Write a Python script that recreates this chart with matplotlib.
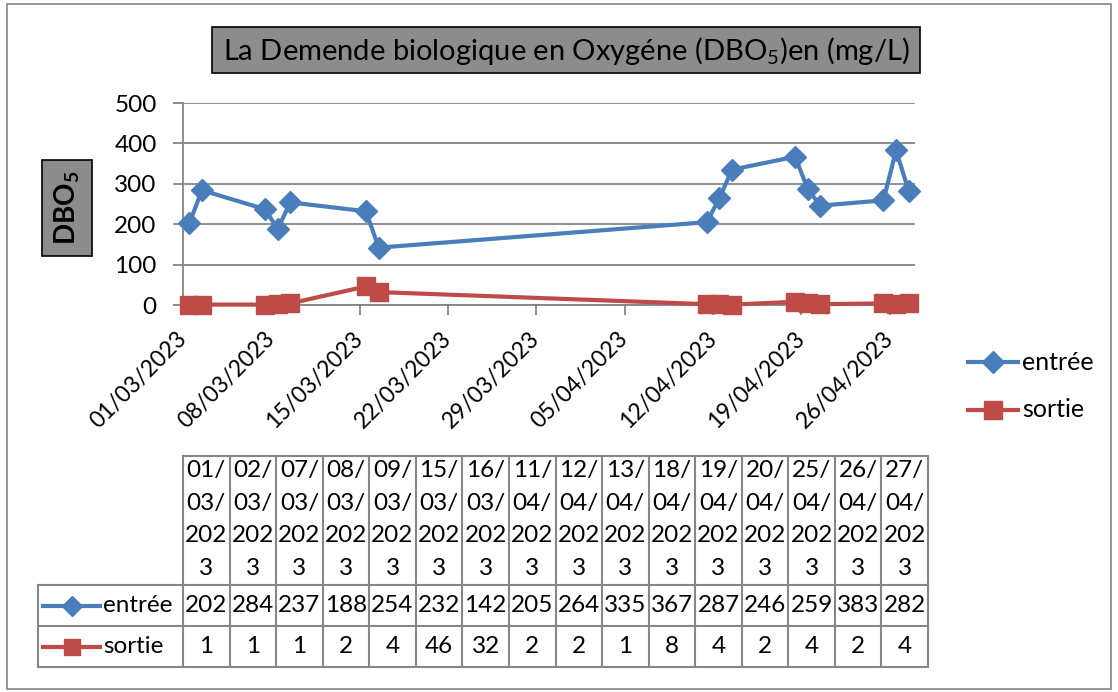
import matplotlib
matplotlib.use('Agg')
import matplotlib.pyplot as plt
import matplotlib.dates as mdates
from matplotlib.patches import Rectangle
from matplotlib.lines import Line2D
import pandas as pd

dates = ['01/03/2023', '02/03/2023', '07/03/2023', '08/03/2023', '09/03/2023',
         '15/03/2023', '16/03/2023', '11/04/2023', '12/04/2023', '13/04/2023',
         '18/04/2023', '19/04/2023', '20/04/2023', '25/04/2023', '26/04/2023',
         '27/04/2023']
entree = [202, 284, 237, 188, 254, 232, 142, 205, 264, 335, 367, 287, 246, 259, 383, 282]
sortie = [1, 1, 1, 2, 4, 46, 32, 2, 2, 1, 8, 4, 2, 4, 2, 4]
tick_dates = ['01/03/2023', '08/03/2023', '15/03/2023', '22/03/2023', '29/03/2023',
              '05/04/2023', '12/04/2023', '19/04/2023', '26/04/2023']
y_ticks = [0, 100, 200, 300, 400, 500]

BLUE = '#4a7ebb'
RED = '#be4b48'
GREY = '#868686'
FONT = 'Lato'
FS = 17.5

plt.rcParams['font.family'] = [FONT, 'DejaVu Sans']
plt.rcParams['mathtext.fontset'] = 'custom'
plt.rcParams['mathtext.rm'] = FONT
plt.rcParams['mathtext.bf'] = FONT + ':bold'

W, H = 1118, 692


def fx(x):
    return x / W


def fy(y):
    return 1 - y / H


def main():
    fig = plt.figure(figsize=(W / 100, H / 100), dpi=100)

    # outer frame of the chart
    fig.add_artist(Rectangle((fx(7), fy(689)), fx(1111) - fx(7), fy(4) - fy(689),
                             transform=fig.transFigure, fill=False, edgecolor=GREY, lw=1.2))

    ax = fig.add_axes([fx(183), fy(305), fx(915) - fx(183), fy(103) - fy(305)])

    xd = mdates.date2num(pd.to_datetime(dates, format='%d/%m/%Y'))
    xt = mdates.date2num(pd.to_datetime(tick_dates, format='%d/%m/%Y'))

    ax.plot(xd, entree, color=BLUE, lw=3, marker='D', ms=11, clip_on=False, zorder=3)
    ax.plot(xd, sortie, color=RED, lw=3, marker='s', ms=13, clip_on=False, zorder=4)

    ax.set_xlim(xd[0] - 0.5, xd[-1] + 0.5)
    ax.set_ylim(0, 500)
    ax.set_yticks(y_ticks)
    ax.set_yticklabels([str(v) for v in y_ticks], fontsize=FS)
    ax.set_xticks(xt - 0.5)
    ax.set_xticklabels(tick_dates, fontsize=16.5, rotation=45, ha='right',
                       va='center', rotation_mode='anchor')

    ax.yaxis.grid(True, color=GREY, lw=1.3)
    ax.set_axisbelow(True)
    for s in ['top', 'right']:
        ax.spines[s].set_visible(False)
    for s in ['left', 'bottom']:
        ax.spines[s].set_color(GREY)
        ax.spines[s].set_linewidth(1.3)
    ax.tick_params(axis='y', length=7, color=GREY, width=1.3, pad=12)
    ax.tick_params(axis='x', length=7, color=GREY, width=1.3, pad=15)

    # title box
    fig.add_artist(Rectangle((fx(212), fy(73)), fx(920) - fx(212), fy(27) - fy(73),
                             transform=fig.transFigure, facecolor='#8c8c8c',
                             edgecolor='black', lw=1.2))
    fig.text(fx(566), fy(51), 'La Demende biologique en Oxygéne (DBO$_5$)en (mg/L)',
             ha='center', va='center', fontsize=21)

    # y label box
    fig.add_artist(Rectangle((fx(42), fy(256)), fx(92) - fx(42), fy(160) - fy(256),
                             transform=fig.transFigure, facecolor='#8c8c8c',
                             edgecolor='black', lw=1.2))
    fig.text(fx(67), fy(208), r'DBO$_\mathbf{5}$', rotation=90, ha='center', va='center',
             fontsize=20, fontweight='bold')

    # legend
    for yy, col, mk, ms, lab in [(362, BLUE, 'D', 11, 'entrée'), (410, RED, 's', 13, 'sortie')]:
        fig.add_artist(Line2D([fx(968), fx(1018)], [fy(yy), fy(yy)], color=col, lw=3,
                              transform=fig.transFigure))
        fig.add_artist(Line2D([fx(993)], [fy(yy)], color=col, marker=mk, ms=ms,
                              transform=fig.transFigure))
        fig.text(fx(1022), fy(yy), lab, ha='left', va='center', fontsize=FS + 0.5)

    # data table below the chart
    n = len(dates)
    x0, x1, lab_x = 183, 928, 38
    cw = (x1 - x0) / n
    top, hb, r1, r2 = 456, 585, 626, 667

    def hline(y, xa, xb):
        fig.add_artist(Line2D([fx(xa), fx(xb)], [fy(y), fy(y)], color=GREY, lw=1.5,
                              transform=fig.transFigure))

    def vline(x, ya, yb):
        fig.add_artist(Line2D([fx(x), fx(x)], [fy(ya), fy(yb)], color=GREY, lw=1.5,
                              transform=fig.transFigure))

    hline(top, x0, x1)
    for y in (hb, r1, r2):
        hline(y, lab_x, x1)
    vline(lab_x, hb, r2)
    for i in range(n + 1):
        vline(x0 + i * cw, top, r2)

    for i, d in enumerate(dates):
        cx = x0 + (i + 0.5) * cw
        parts = [d[0:3], d[3:6], d[6:9], d[9:]]
        for k, p in enumerate(parts):
            fig.text(fx(cx), fy(471 + k * 32.5), p, ha='center', va='center', fontsize=FS)
        fig.text(fx(cx), fy((hb + r1) / 2), str(entree[i]), ha='center', va='center', fontsize=FS)
        fig.text(fx(cx), fy((r1 + r2) / 2), str(sortie[i]), ha='center', va='center', fontsize=FS)

    for yy, col, mk, ms, lab in [((hb + r1) / 2, BLUE, 'D', 10, 'entrée'),
                                 ((r1 + r2) / 2, RED, 's', 12, 'sortie')]:
        fig.add_artist(Line2D([fx(43), fx(100)], [fy(yy), fy(yy)], color=col, lw=3,
                              transform=fig.transFigure))
        fig.add_artist(Line2D([fx(72)], [fy(yy)], color=col, marker=mk, ms=ms,
                              transform=fig.transFigure))
        fig.text(fx(103), fy(yy), lab, ha='left', va='center', fontsize=FS)

    fig.savefig('out.png', dpi=100)


if __name__ == "__main__":
    main()
